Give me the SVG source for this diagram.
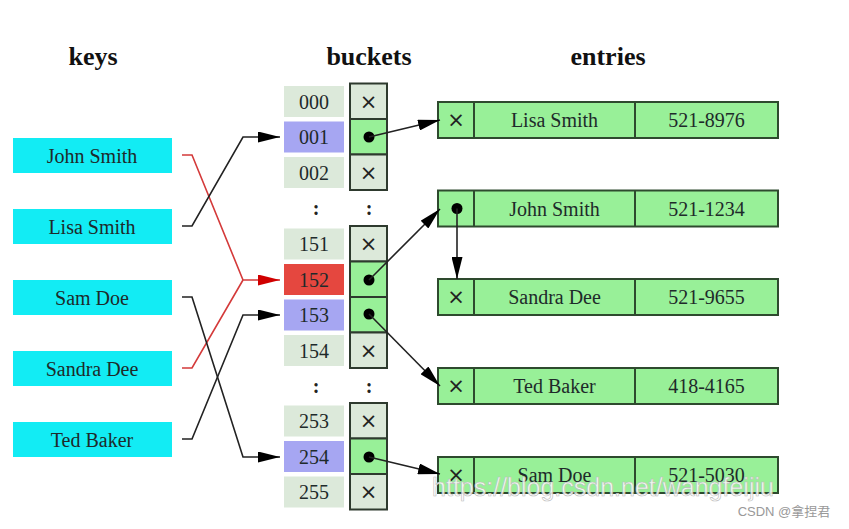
<svg xmlns="http://www.w3.org/2000/svg" width="849" height="529" viewBox="0 0 849 529">
<style>
text{font-family:"Liberation Serif","Times New Roman",serif;fill:#1e2a2a;text-anchor:middle;dominant-baseline:central}
.hdr{font-size:26px;font-weight:bold;fill:#111;dominant-baseline:auto}
.lbl{font-size:20px}
.key{fill:#12ecf4}
.idx{fill:#dce9da}
.sel{fill:#a6a6f2}
.hot{fill:#e5473f}
.nul{fill:#dce9da;stroke:#2e3a2e;stroke-width:2}
.ptr{fill:#98f098;stroke:#2e3a2e;stroke-width:2}
.ent{fill:#98f098;stroke:#2e4a2e;stroke-width:2}
.x{font-family:"DejaVu Sans",sans-serif;font-size:21px;fill:#222}
.dot{fill:#000}
.col{font-size:20px;font-weight:bold;fill:#222}
.c{fill:none;stroke:#222;stroke-width:1.6}
.r{fill:none;stroke:#d43a3a;stroke-width:1.6}
</style>
<defs>
<marker id="ab" viewBox="0 0 22 11" refX="22" refY="5.5" markerWidth="22" markerHeight="11" markerUnits="userSpaceOnUse" orient="auto"><path d="M0,0 L22,5.5 L0,11 z" fill="#000"/></marker>
<marker id="ar" viewBox="0 0 22 11" refX="22" refY="5.5" markerWidth="22" markerHeight="11" markerUnits="userSpaceOnUse" orient="auto"><path d="M0,0 L22,5.5 L0,11 z" fill="#d00000"/></marker>
</defs>
<rect width="849" height="529" fill="#fff"/>
<text class="hdr" x="93" y="65">keys</text>
<text class="hdr" x="369" y="65">buckets</text>
<text class="hdr" x="608" y="65">entries</text>

<g id="keys">
<g id="key-john"><rect class="key" x="13" y="138" width="159" height="35"/><text class="lbl" x="92" y="155.5">John Smith</text></g>
<g id="key-lisa"><rect class="key" x="13" y="209" width="159" height="35"/><text class="lbl" x="92" y="226.5">Lisa Smith</text></g>
<g id="key-sam"><rect class="key" x="13" y="280" width="159" height="35"/><text class="lbl" x="92" y="297.5">Sam Doe</text></g>
<g id="key-sandra"><rect class="key" x="13" y="351" width="159" height="35"/><text class="lbl" x="92" y="368.5">Sandra Dee</text></g>
<g id="key-ted"><rect class="key" x="13" y="422" width="159" height="35"/><text class="lbl" x="92" y="439.5">Ted Baker</text></g>
</g>

<g id="buckets">
<g id="b000"><rect class="idx" x="284" y="86" width="60" height="31"/><text class="lbl" x="314" y="101.5">000</text><rect class="nul" x="350" y="83.5" width="37" height="35.5"/><text class="x" x="368.5" y="101.5">×</text></g>
<g id="b001"><rect class="sel" x="284" y="121.5" width="60" height="31"/><text class="lbl" x="314" y="137">001</text><rect class="ptr" x="350" y="119" width="37" height="35.5"/><circle class="dot" cx="369" cy="137" r="5.5"/></g>
<g id="b002"><rect class="idx" x="284" y="157" width="60" height="31"/><text class="lbl" x="314" y="172.5">002</text><rect class="nul" x="350" y="154.5" width="37" height="35.5"/><text class="x" x="368.5" y="172.5">×</text></g>
<text class="col" x="316" y="208">:</text><text class="col" x="369" y="208">:</text>
<g id="b151"><rect class="idx" x="284" y="228.5" width="60" height="31"/><text class="lbl" x="314" y="244">151</text><rect class="nul" x="350" y="226" width="37" height="35.5"/><text class="x" x="368.5" y="244">×</text></g>
<g id="b152"><rect class="hot" x="284" y="264" width="60" height="31"/><text class="lbl" x="314" y="279.5">152</text><rect class="ptr" x="350" y="261.5" width="37" height="35.5"/><circle class="dot" cx="369" cy="280" r="5.5"/></g>
<g id="b153"><rect class="sel" x="284" y="299.5" width="60" height="31"/><text class="lbl" x="314" y="315">153</text><rect class="ptr" x="350" y="297" width="37" height="35.5"/><circle class="dot" cx="369" cy="314" r="5.5"/></g>
<g id="b154"><rect class="idx" x="284" y="335" width="60" height="31"/><text class="lbl" x="314" y="350.5">154</text><rect class="nul" x="350" y="332.5" width="37" height="35.5"/><text class="x" x="368.5" y="350.5">×</text></g>
<text class="col" x="316" y="386">:</text><text class="col" x="369" y="386">:</text>
<g id="b253"><rect class="idx" x="284" y="405.5" width="60" height="31"/><text class="lbl" x="314" y="421">253</text><rect class="nul" x="350" y="403" width="37" height="35.5"/><text class="x" x="368.5" y="421">×</text></g>
<g id="b254"><rect class="sel" x="284" y="441" width="60" height="31"/><text class="lbl" x="314" y="456.5">254</text><rect class="ptr" x="350" y="438.5" width="37" height="35.5"/><circle class="dot" cx="369" cy="457" r="5.5"/></g>
<g id="b255"><rect class="idx" x="284" y="476.5" width="60" height="31"/><text class="lbl" x="314" y="492">255</text><rect class="nul" x="350" y="474" width="37" height="35.5"/><text class="x" x="368.5" y="492">×</text></g>
</g>

<g id="entries">
<g id="e-lisa"><rect class="ent" x="438" y="102" width="340" height="36"/><line class="ent" x1="474" y1="102" x2="474" y2="138"/><line class="ent" x1="635" y1="102" x2="635" y2="138"/><text class="x" x="456" y="120">×</text><text class="lbl" x="554.5" y="120">Lisa Smith</text><text class="lbl" x="706.5" y="120">521-8976</text></g>
<g id="e-john"><rect class="ent" x="438" y="190.5" width="340" height="36"/><line class="ent" x1="474" y1="190.5" x2="474" y2="226.5"/><line class="ent" x1="635" y1="190.5" x2="635" y2="226.5"/><circle class="dot" cx="457" cy="208.5" r="5.5"/><text class="lbl" x="554.5" y="208.5">John Smith</text><text class="lbl" x="706.5" y="208.5">521-1234</text></g>
<g id="e-sandra"><rect class="ent" x="438" y="279" width="340" height="36"/><line class="ent" x1="474" y1="279" x2="474" y2="315"/><line class="ent" x1="635" y1="279" x2="635" y2="315"/><text class="x" x="456" y="297">×</text><text class="lbl" x="554.5" y="297">Sandra Dee</text><text class="lbl" x="706.5" y="297">521-9655</text></g>
<g id="e-ted"><rect class="ent" x="438" y="368" width="340" height="36"/><line class="ent" x1="474" y1="368" x2="474" y2="404"/><line class="ent" x1="635" y1="368" x2="635" y2="404"/><text class="x" x="456" y="386">×</text><text class="lbl" x="554.5" y="386">Ted Baker</text><text class="lbl" x="706.5" y="386">418-4165</text></g>
<g id="e-sam"><rect class="ent" x="438" y="457" width="340" height="36"/><line class="ent" x1="474" y1="457" x2="474" y2="493"/><line class="ent" x1="635" y1="457" x2="635" y2="493"/><text class="x" x="456" y="475">×</text><text class="lbl" x="554.5" y="475">Sam Doe</text><text class="lbl" x="706.5" y="475">521-5030</text></g>
</g>

<g id="connectors">
<polyline class="r" points="182,155 192,155 243,280 280,280" marker-end="url(#ar)"/>
<polyline class="r" points="182,368 192,368 243,280"/>
<polyline class="c" points="182,226 192,226 243,137 280,137" marker-end="url(#ab)"/>
<polyline class="c" points="182,297 192,297 243,457 280,457" marker-end="url(#ab)"/>
<polyline class="c" points="182,439 192,439 243,315 280,315" marker-end="url(#ab)"/>
<line class="c" x1="369" y1="137" x2="440" y2="120" marker-end="url(#ab)"/>
<line class="c" x1="369" y1="280" x2="440" y2="209" marker-end="url(#ab)"/>
<line class="c" x1="369" y1="314" x2="440" y2="386" marker-end="url(#ab)"/>
<line class="c" x1="369" y1="457" x2="440" y2="474" marker-end="url(#ab)"/>
<line class="c" x1="457" y1="208.5" x2="457" y2="279" marker-end="url(#ab)"/>
</g>

<text x="603" y="487" style="font-family:'Liberation Sans',Arial,sans-serif;font-size:25px;fill:#fff;fill-opacity:0.85;stroke:#bbb;stroke-width:0.6">https://blog.csdn.net/wangfeijiu</text>
<text x="784" y="511" style="font-family:'Liberation Sans','Noto Sans CJK SC',sans-serif;font-size:13px;fill:#999">CSDN @拿捏君</text>
</svg>
